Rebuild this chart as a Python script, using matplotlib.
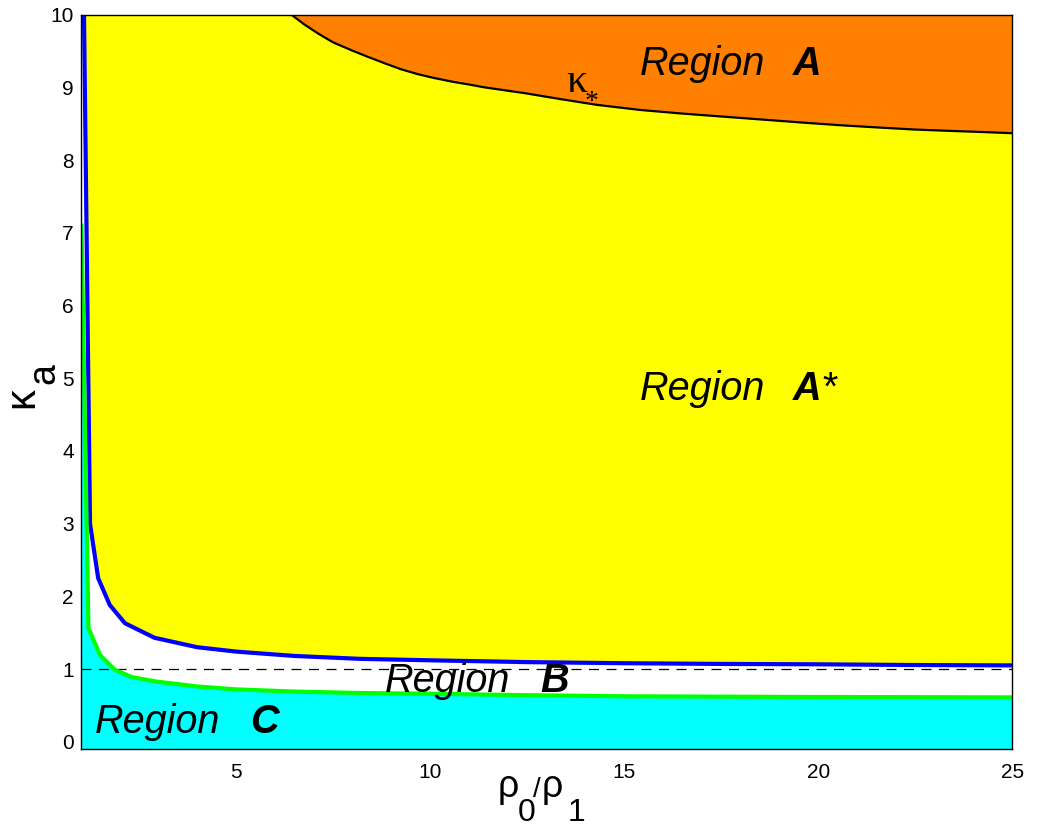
import numpy as np
import matplotlib
matplotlib.use("Agg")
import matplotlib.pyplot as plt

# ---- data ----
blue_x = [1.085, 1.24, 1.45, 1.75, 2.14, 2.9, 4.0, 5.0, 6.5, 8.2, 10, 12.5, 15, 17.5, 20, 22.5, 25]
blue_y = [10.0, 3.0, 2.25, 1.88, 1.63, 1.43, 1.30, 1.24, 1.18, 1.14, 1.12, 1.095, 1.08, 1.07, 1.065, 1.055, 1.05]

green_x = [1.02, 1.2, 1.5, 1.88, 2.31, 2.91, 4.0, 5.0, 6.5, 8.2, 10, 12.5, 15, 17.5, 20, 22.5, 25]
green_y = [7.1, 1.56, 1.19, 0.99, 0.89, 0.83, 0.76, 0.72, 0.69, 0.67, 0.66, 0.64, 0.625, 0.62, 0.615, 0.613, 0.61]

black_x = [6.43, 6.75, 7.12, 7.5, 7.98, 8.4, 8.84, 9.25, 9.70, 10.1, 10.56, 11.0, 11.41,
           12.45, 13.35, 14.3, 15.41, 16.5, 17.5, 18.5, 19.5, 20.56, 21.5, 22.5, 23.5, 24.3, 25.0]
black_y = [10.0, 9.87, 9.74, 9.62, 9.51, 9.42, 9.33, 9.25, 9.18, 9.13, 9.08, 9.04, 9.00,
           8.92, 8.84, 8.76, 8.69, 8.64, 8.60, 8.56, 8.52, 8.48, 8.45, 8.42, 8.40, 8.385, 8.37]

kappa_ref = 1.0
xticks = [5, 10, 15, 20, 25]
yticks = list(range(0, 11))
XMIN, XMAX = 1, 25
YMIN, YMAX = -0.1, 10

W, H = 1040, 827
fig = plt.figure(figsize=(W / 100, H / 100), dpi=100)
ax = fig.add_axes([80.7 / W, 1 - 749 / H, (1012.3 - 80.7) / W, (749 - 14.7) / H])

FONT = "Liberation Sans"

# yellow region above blue curve
ax.fill(list(blue_x) + [XMAX], list(blue_y) + [YMAX], color="#FFFF00", lw=0, zorder=1)
# orange region above kappa_*
ax.fill_between(black_x, black_y, YMAX, color="#FF8000", lw=0, zorder=1.5)
# cyan region below green curve
ax.fill(list(green_x) + [XMAX, XMIN, XMIN], list(green_y) + [YMIN, YMIN, green_y[0]],
        color="#00FFFF", lw=0, zorder=1)

ax.axhline(kappa_ref, color="black", lw=0.9, dashes=(8, 6), zorder=3)
ax.plot(blue_x, blue_y, color="#0000FF", lw=3, zorder=4, solid_joinstyle="round")
ax.plot(green_x, green_y, color="#00FF00", lw=3, zorder=4, solid_joinstyle="round")
ax.plot(black_x, black_y, color="black", lw=1.6, zorder=4, solid_joinstyle="round")

ax.set_xlim(XMIN, XMAX)
ax.set_ylim(YMIN, YMAX)
ax.set_xticks(xticks)
ax.set_yticks(yticks)
ax.tick_params(length=0, labelsize=15)
ax.tick_params(axis="x", pad=10)
ax.tick_params(axis="y", pad=5)
for lab in ax.get_xticklabels() + ax.get_yticklabels():
    lab.set_fontfamily(FONT)
for s in ax.spines.values():
    s.set_linewidth(1.0)
    s.set_zorder(5)

# region labels
RS = 28.5
def region(xr, xl, y, letter):
    ax.text(xr, y, "Region", fontsize=RS, style="italic", family=FONT, zorder=6)
    ax.text(xl, y, letter, fontsize=RS, style="italic", weight="bold", family=FONT, zorder=6)

region(15.41, 19.35, 9.17, "A")
region(15.41, 19.35, 4.70, "A")
ax.text(20.1, 4.70, "*", fontsize=RS, family=FONT, zorder=6)
region(8.84, 12.84, 0.69, "B")
region(1.37, 5.37, 0.115, "C")

# kappa_* label
ax.text(13.50, 8.93, "\u03ba", fontsize=30, family="Liberation Serif", zorder=6)
ax.text(13.97, 8.70, "*", fontsize=20, family="Liberation Serif", zorder=6)

# axis labels built from pieces (subscripts same size as main text)
def ftext(px, py, s, **kw):
    fig.text(px / W, 1 - py / H, s, family=FONT, **kw)

ftext(498, 797, "\u03c1", fontsize=27)
ftext(518, 821, "0", fontsize=23)
ftext(533, 797, "/", fontsize=20)
ftext(542, 797, "\u03c1", fontsize=27)
ftext(568, 821, "1", fontsize=23)

ftext(42, 408, "\u03ba", fontsize=30, rotation=90, va="bottom", ha="right")
ftext(62, 384, "a", fontsize=27, rotation=90, va="bottom", ha="right")

fig.savefig("out.png", dpi=100)
